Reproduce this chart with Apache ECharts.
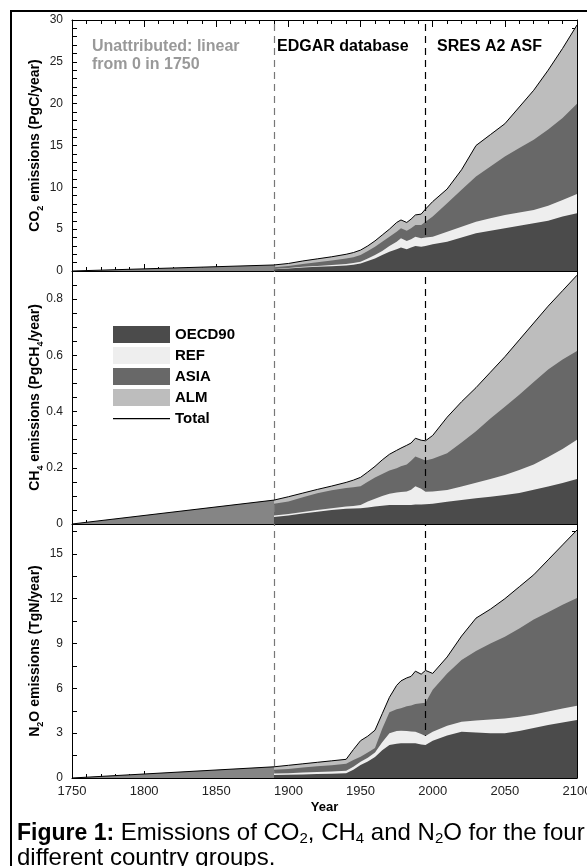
<!DOCTYPE html>
<html>
<head>
<meta charset="utf-8">
<script src="https://cdn.jsdelivr.net/npm/echarts@6/dist/echarts.min.js"></script>
<style>
html, body { margin: 0; padding: 0; background: #fff; }
#chart { width: 587px; height: 866px; }
</style>
</head>
<body>
<div id="chart"></div>
<script>
// years for the attributed (EDGAR / SRES) part
var years = [1890, 1900, 1910, 1920, 1930, 1940, 1945, 1950, 1955, 1960, 1965, 1970, 1975, 1978, 1982, 1985, 1988, 1992, 1995, 2000,
  2010, 2020, 2030, 2040, 2050, 2060, 2070, 2080, 2090, 2100];
var unattribYears = [1750, 1890];
var markYears = [1890, 1995];

var regionNames = ['OECD90', 'REF', 'ASIA', 'ALM'];

// CO2 (PgC/year)
var co2Unattrib = [0, 0.72];
var co2Oecd = [0.2, 0.3, 0.42, 0.5, 0.58, 0.65, 0.75, 0.9, 1.2, 1.5, 1.9, 2.3, 2.6, 2.8, 2.6, 2.8, 3.0, 2.9, 3.0, 3.2, 3.5, 4.0, 4.5, 4.8, 5.1, 5.4, 5.7, 6.0, 6.5, 6.9];
var co2Ref = [0.05, 0.05, 0.08, 0.1, 0.14, 0.2, 0.2, 0.2, 0.3, 0.4, 0.5, 0.7, 0.9, 1.1, 1.0, 1.0, 1.1, 1.0, 1.0, 0.9, 1.2, 1.3, 1.4, 1.5, 1.6, 1.6, 1.6, 1.8, 2.0, 2.3];
var co2Asia = [0.2, 0.25, 0.35, 0.45, 0.53, 0.65, 0.7, 0.8, 0.9, 1.0, 1.1, 1.1, 1.2, 1.2, 1.2, 1.3, 1.4, 1.6, 1.9, 2.4, 3.4, 4.4, 5.4, 6.2, 7.0, 7.7, 8.4, 9.1, 9.8, 10.8];
var co2Alm = [0.27, 0.3, 0.35, 0.4, 0.45, 0.5, 0.55, 0.6, 0.6, 0.7, 0.8, 0.9, 1.1, 1.0, 1.0, 1.1, 1.2, 1.3, 1.5, 1.8, 1.7, 2.4, 3.7, 3.8, 3.9, 4.9, 5.9, 7.1, 8.3, 9.4];

// CH4 (PgCH4/year)
var ch4Unattrib = [0, 0.085];
var ch4Oecd = [0.025, 0.03, 0.037, 0.044, 0.05, 0.054, 0.055, 0.056, 0.059, 0.062, 0.065, 0.068, 0.068, 0.068, 0.068, 0.068, 0.069, 0.069, 0.07, 0.072, 0.079, 0.085, 0.092, 0.097, 0.103, 0.11, 0.122, 0.133, 0.146, 0.16];
var ch4Ref = [0.005, 0.006, 0.006, 0.006, 0.006, 0.008, 0.009, 0.012, 0.021, 0.028, 0.035, 0.04, 0.044, 0.046, 0.048, 0.054, 0.065, 0.056, 0.045, 0.044, 0.042, 0.048, 0.055, 0.063, 0.071, 0.082, 0.09, 0.105, 0.121, 0.14];
var ch4Asia = [0.042, 0.044, 0.052, 0.059, 0.064, 0.066, 0.067, 0.066, 0.07, 0.075, 0.078, 0.082, 0.086, 0.091, 0.096, 0.103, 0.106, 0.107, 0.111, 0.116, 0.131, 0.157, 0.183, 0.215, 0.243, 0.268, 0.293, 0.312, 0.318, 0.315];
var ch4Alm = [0.013, 0.017, 0.015, 0.014, 0.015, 0.02, 0.025, 0.032, 0.035, 0.04, 0.05, 0.058, 0.064, 0.065, 0.068, 0.063, 0.065, 0.066, 0.07, 0.083, 0.128, 0.145, 0.155, 0.165, 0.178, 0.195, 0.21, 0.225, 0.245, 0.27];

// N2O (TgN/year)
var n2oUnattrib = [0, 0.75];
var n2oOecd = [0.2, 0.22, 0.24, 0.26, 0.28, 0.31, 0.55, 0.87, 1.1, 1.4, 1.85, 2.21, 2.3, 2.32, 2.32, 2.32, 2.32, 2.25, 2.21, 2.5, 2.85, 3.1, 3.05, 3.0, 2.99, 3.15, 3.35, 3.55, 3.72, 3.88];
var n2oRef = [0.1, 0.1, 0.12, 0.14, 0.16, 0.18, 0.2, 0.22, 0.25, 0.3, 0.55, 0.79, 0.85, 0.85, 0.83, 0.8, 0.78, 0.7, 0.6, 0.6, 0.65, 0.67, 0.8, 0.92, 1.0, 0.95, 0.9, 0.9, 0.93, 0.96];
var n2oAsia = [0.25, 0.28, 0.34, 0.38, 0.41, 0.46, 0.45, 0.34, 0.35, 0.3, 0.9, 1.4, 1.45, 1.5, 1.65, 1.73, 1.85, 2.05, 2.23, 2.8, 3.5, 4.13, 4.65, 5.08, 5.47, 5.9, 6.35, 6.65, 6.95, 7.21];
var n2oAlm = [0.2, 0.25, 0.25, 0.27, 0.3, 0.3, 0.7, 1.07, 1.1, 1.2, 1.0, 1.0, 1.6, 1.83, 1.9, 1.95, 2.2, 1.95, 2.16, 1.1, 1.1, 1.6, 2.2, 2.3, 2.54, 2.8, 3.0, 3.5, 4.0, 4.55];

var FONT = '"Liberation Sans", Arial, sans-serif';
var regionColors = ['#4b4b4b', '#eeeeee', '#686868', '#bdbdbd'];

var panels = [
  { unattrib: co2Unattrib, regions: [co2Oecd, co2Ref, co2Asia, co2Alm], max: 30, tick: 1, labelStep: 5,
    title: '{a|CO}{s|2}{a| emissions (PgC/year)}', top: 20, height: 251 },
  { unattrib: ch4Unattrib, regions: [ch4Oecd, ch4Ref, ch4Asia, ch4Alm], max: 0.9, tick: 0.05, labelStep: 0.2,
    title: '{a|CH}{s|4}{a| emissions (PgCH}{s|4}{a|/year)}', top: 271, height: 253 },
  { unattrib: n2oUnattrib, regions: [n2oOecd, n2oRef, n2oAsia, n2oAlm], max: 17, tick: 1.5, labelStep: 3,
    title: '{a|N}{s|2}{a|O emissions (TgN/year)}', top: 524, height: 254 }
];

function pairs(xs, ys) {
  return xs.map(function (x, i) { return [x, ys[i]]; });
}
// running sums of the regions, bottom (OECD90) to top (ALM)
function cumulative(parts) {
  var out = [], run = years.map(function () { return 0; });
  parts.forEach(function (p) {
    run = run.map(function (s, i) { return +(s + p[i]).toFixed(4); });
    out.push(run);
  });
  return out;
}

var black = { color: '#000', width: 1 };
var grids = [], xAxes = [], yAxesL = [], yAxesR = [], series = [];

panels.forEach(function (p, i) {
  grids.push({ left: 72, width: 505, top: p.top, height: p.height, containLabel: false, outerBoundsMode: 'none' });
  xAxes.push({
    gridIndex: i, type: 'value', min: 1750, max: 2100, interval: 50,
    axisLine: { onZero: false, lineStyle: black },
    axisTick: { inside: true, length: 7, lineStyle: black },
    minorTick: { show: true, splitNumber: 5, length: 4, lineStyle: black },
    splitLine: { show: false },
    axisLabel: { show: i === 2, color: '#222', fontSize: 13, fontFamily: FONT, margin: 7,
      formatter: function (v) { return String(v); } },
    name: i === 2 ? 'Year' : '', nameLocation: 'middle', nameGap: 23, nameMoveOverlap: false,
    nameTextStyle: { fontFamily: FONT, fontWeight: 'bold', fontSize: 13, color: '#000' }
  });
  var step = p.labelStep;
  yAxesL.push({
    gridIndex: i, type: 'value', min: 0, max: p.max, interval: p.tick,
    axisLine: { show: true, lineStyle: black },
    axisTick: { show: true, inside: true, length: 5, lineStyle: black },
    splitLine: { show: false },
    axisLabel: {
      color: '#222', fontSize: 12, fontFamily: FONT, margin: 9,
      formatter: function (v) {
        var r = v / step;
        return Math.abs(r - Math.round(r)) < 1e-6 ? String(+v.toFixed(2)) : '';
      }
    },
    name: p.title, nameLocation: 'middle', nameGap: 27, nameMoveOverlap: false,
    nameTextStyle: {
      fontFamily: FONT, fontWeight: 'bold', fontSize: 14, color: '#000',
      rich: {
        a: { fontFamily: FONT, fontWeight: 'bold', fontSize: 14, lineHeight: 20, color: '#000' },
        s: { fontFamily: FONT, fontWeight: 'bold', fontSize: 9, lineHeight: 9, verticalAlign: 'bottom', color: '#000' }
      }
    }
  });
  yAxesR.push({
    gridIndex: i, type: 'value', position: 'right', min: 0, max: p.max, interval: p.tick,
    axisLine: { show: true, lineStyle: black },
    axisTick: { show: true, inside: true, length: 5, lineStyle: black },
    splitLine: { show: false }, axisLabel: { show: false }
  });

  series.push({
    type: 'line', name: 'Unattributed', xAxisIndex: i, yAxisIndex: i,
    data: pairs(unattribYears, p.unattrib), symbol: 'none', silent: true, z: 2,
    lineStyle: { color: '#000', width: 1 }, itemStyle: { color: '#858585' },
    areaStyle: { color: '#858585', opacity: 1 }
  });
  var tops = cumulative(p.regions);
  // paint from the top layer down so each lower band covers the one above it
  for (var j = 3; j >= 0; j--) {
    series.push({
      type: 'line', name: regionNames[j], xAxisIndex: i, yAxisIndex: i,
      data: pairs(years, tops[j]), symbol: 'none', silent: true, z: 6 - j,
      lineStyle: { width: 0 }, itemStyle: { color: regionColors[j] },
      areaStyle: { color: regionColors[j], opacity: 1 }
    });
  }
  series.push({
    type: 'line', name: 'Total', xAxisIndex: i, yAxisIndex: i,
    data: pairs(years, tops[3]), symbol: 'none', silent: true, z: 8,
    lineStyle: { color: '#000', width: 1 }, itemStyle: { color: '#000' },
    markLine: {
      silent: true, symbol: 'none', label: { show: false },
      lineStyle: { type: [7, 5], width: 1.2 },
      data: markYears.map(function (y, k) {
        return { xAxis: y, lineStyle: { color: k === 0 ? '#777' : '#000', type: [7, 5], width: 1.2 } };
      })
    }
  });
});

// top axis of the CO2 panel
xAxes.push({
  gridIndex: 0, type: 'value', position: 'top', min: 1750, max: 2100, interval: 50,
  axisLine: { onZero: false, lineStyle: black },
  axisTick: { inside: true, length: 7, lineStyle: black },
  minorTick: { show: true, splitNumber: 5, length: 4, lineStyle: black },
  splitLine: { show: false }, axisLabel: { show: false }
});

var chart = echarts.init(document.getElementById('chart'));
chart.setOption({
  animation: false,
  backgroundColor: '#fff',
  grid: grids,
  xAxis: xAxes,
  yAxis: yAxesL.concat(yAxesR),
  series: series,
  legend: {
    left: 113, top: 326, orient: 'vertical', padding: 0,
    itemWidth: 57, itemHeight: 17, itemGap: 4, selectedMode: false,
    itemStyle: { borderWidth: 0 },
    textStyle: { fontFamily: FONT, fontWeight: 'bold', fontSize: 15, color: '#000' },
    data: [
      { name: 'OECD90', icon: 'rect' },
      { name: 'REF', icon: 'rect' },
      { name: 'ASIA', icon: 'rect' },
      { name: 'ALM', icon: 'rect' },
      { name: 'Total', icon: 'path://M0,0L57,0L57,0Z M0,8L57,8L57,9.2L0,9.2Z M0,17L57,17L57,17Z' }
    ]
  },
  title: {
    left: 17, top: 821, padding: 0,
    text: '{b|Figure 1:} Emissions of CO{s|2}, CH{s|4} and N{s|2}O for the four\ndifferent country groups.',
    textStyle: {
      fontFamily: FONT, fontSize: 24, fontWeight: 'normal', color: '#000', lineHeight: 25,
      rich: {
        b: { fontFamily: FONT, fontWeight: 'bold', fontSize: 23, lineHeight: 25, color: '#000' },
        s: { fontFamily: FONT, fontSize: 15, lineHeight: 15, verticalAlign: 'bottom', color: '#000' }
      }
    }
  },
  graphic: [
    { type: 'rect', silent: true, z: 100, shape: { x: 11, y: 11, width: 700, height: 1000 },
      style: { fill: 'none', stroke: '#000', lineWidth: 2 } },
    { type: 'text', x: 92, y: 38, z: 100,
      style: { text: 'Unattributed: linear\nfrom 0 in 1750', fontFamily: FONT, fontWeight: 'bold', fontSize: 16, lineHeight: 18, fill: '#999' } },
    { type: 'text', x: 277, y: 38, z: 100,
      style: { text: 'EDGAR database', fontFamily: FONT, fontWeight: 'bold', fontSize: 16, lineHeight: 18, fill: '#000' } },
    { type: 'text', x: 437, y: 38, z: 100,
      style: { text: 'SRES A2 ASF', fontFamily: FONT, fontWeight: 'bold', fontSize: 16, lineHeight: 18, fill: '#000' } }
  ]
});
</script>
</body>
</html>
